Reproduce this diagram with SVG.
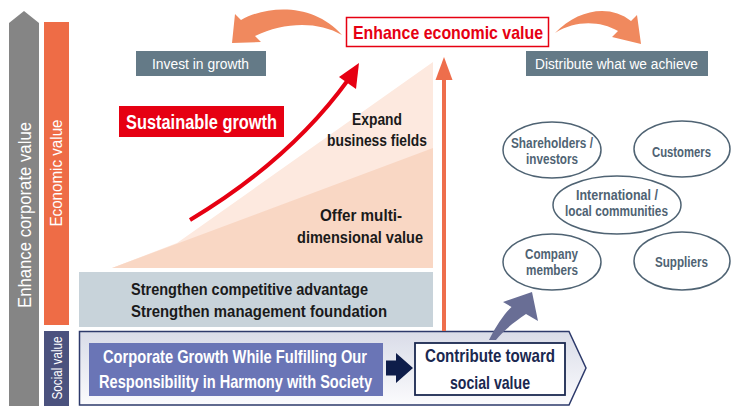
<svg xmlns="http://www.w3.org/2000/svg" width="732" height="406" viewBox="0 0 732 406">
<style>
text{font-family:"Liberation Sans Narrow","Liberation Sans",Arial,sans-serif;font-weight:bold}
.w{fill:#ffffff}
.k{fill:#1a1a1a}
.e{fill:#4f6373;font-size:14.5px}
.tag{fill:#647a87}
.ell{fill:#ffffff;stroke:#4f6373;stroke-width:1.5}
.reg{font-weight:normal}
</style>
<defs>
<linearGradient id="pg" x1="0" y1="0" x2="0" y2="1">
<stop offset="0" stop-color="#d9dce8"/>
<stop offset="1" stop-color="#fbfbfd"/>
</linearGradient>
</defs>

<g id="side-corporate">
<polygon points="9,23 24,11 39,23 39,406 9,406" fill="#858585"/>
<text class="w reg" font-size="19" transform="translate(31,215) rotate(-90)" text-anchor="middle" textLength="186" lengthAdjust="spacingAndGlyphs">Enhance corporate value</text>
</g>
<g id="side-economic">
<rect x="44" y="22" width="25" height="303" fill="#ee6c46"/>
<text class="w reg" font-size="17" transform="translate(62,173) rotate(-90)" text-anchor="middle" textLength="107" lengthAdjust="spacingAndGlyphs">Economic value</text>
</g>
<g id="side-social">
<rect x="44" y="331" width="25" height="75" fill="#4b527e"/>
<text class="w reg" font-size="15" transform="translate(61.5,368) rotate(-90)" text-anchor="middle" textLength="63" lengthAdjust="spacingAndGlyphs">Social value</text>
</g>

<g id="growth-area">
<polygon points="112,268 177,243 433,62 433,268" fill="#fde9df"/>
<polygon points="112,268 433,148 433,268" fill="#f9d7c4"/>
</g>

<g id="invest">
<rect class="tag" x="136" y="51" width="130" height="25"/>
<text class="w reg" font-size="15.5" x="200.5" y="68.5" text-anchor="middle" textLength="97" lengthAdjust="spacingAndGlyphs">Invest in growth</text>
</g>
<g id="distribute">
<rect class="tag" x="526" y="51" width="182" height="25"/>
<text class="w reg" font-size="15.5" x="616.5" y="68.5" text-anchor="middle" textLength="163" lengthAdjust="spacingAndGlyphs">Distribute what we achieve</text>
</g>
<g id="enhance-economic">
<rect x="346.5" y="17.5" width="202" height="29" fill="#ffffff" stroke="#e60012" stroke-width="1.5"/>
<text font-size="19" fill="#e60012" x="448" y="38.5" text-anchor="middle" textLength="190" lengthAdjust="spacingAndGlyphs">Enhance economic value</text>
</g>
<g id="sustainable">
<rect x="119" y="106" width="165" height="31" fill="#e60012"/>
<text class="w" font-size="20" x="201.5" y="129" text-anchor="middle" textLength="151" lengthAdjust="spacingAndGlyphs">Sustainable growth</text>
</g>
<g id="expand">
<text class="k" font-size="16.5" x="377" y="124.5" text-anchor="middle" textLength="50" lengthAdjust="spacingAndGlyphs">Expand</text>
<text class="k" font-size="16.5" x="377" y="145.5" text-anchor="middle" textLength="100" lengthAdjust="spacingAndGlyphs">business fields</text>
</g>
<g id="offer">
<text class="k" font-size="16.5" x="361" y="220.5" text-anchor="middle" textLength="82" lengthAdjust="spacingAndGlyphs">Offer multi-</text>
<text class="k" font-size="16.5" x="360" y="242.5" text-anchor="middle" textLength="126" lengthAdjust="spacingAndGlyphs">dimensional value</text>
</g>
<g id="strengthen">
<rect x="79" y="272" width="354" height="55" fill="#c8d3da"/>
<text class="k" font-size="17" x="131" y="294.5" textLength="237" lengthAdjust="spacingAndGlyphs">Strengthen competitive advantage</text>
<text class="k" font-size="17" x="131" y="316.5" textLength="256" lengthAdjust="spacingAndGlyphs">Strengthen management foundation</text>
</g>

<g id="social-band">
<polygon points="79.5,331.5 569,331.5 586,368 569,405 79.5,405" fill="url(#pg)" stroke="#2d3a6b" stroke-width="1.5"/>
</g>
<g id="corporate-growth">
<rect x="89" y="343" width="294" height="53" fill="#6a75b6"/>
<text class="w" font-size="18.5" x="235" y="362.5" text-anchor="middle" textLength="264" lengthAdjust="spacingAndGlyphs">Corporate Growth While Fulfilling Our</text>
<text class="w" font-size="18.5" x="235.5" y="387.5" text-anchor="middle" textLength="273" lengthAdjust="spacingAndGlyphs">Responsibility in Harmony with Society</text>
</g>
<g id="contribute">
<rect x="415" y="343" width="150" height="52" fill="#ffffff" stroke="#1a2850" stroke-width="1.8"/>
<text font-size="19" fill="#1a2850" x="490" y="361.5" text-anchor="middle" textLength="130" lengthAdjust="spacingAndGlyphs">Contribute toward</text>
<text font-size="19" fill="#1a2850" x="490" y="388.5" text-anchor="middle" textLength="80" lengthAdjust="spacingAndGlyphs">social value</text>
</g>

<g id="shareholders">
<ellipse class="ell" cx="552" cy="150" rx="49" ry="28"/>
<text class="e" x="552" y="147.5" text-anchor="middle" textLength="82" lengthAdjust="spacingAndGlyphs">Shareholders /</text>
<text class="e" x="552" y="163.5" text-anchor="middle" textLength="52" lengthAdjust="spacingAndGlyphs">investors</text>
</g>
<g id="customers">
<ellipse class="ell" cx="682" cy="149" rx="48" ry="28"/>
<text class="e" x="681.5" y="157" text-anchor="middle" textLength="59" lengthAdjust="spacingAndGlyphs">Customers</text>
</g>
<g id="communities">
<ellipse class="ell" cx="617" cy="205" rx="64" ry="29"/>
<text class="e" x="617" y="200" text-anchor="middle" textLength="82" lengthAdjust="spacingAndGlyphs">International /</text>
<text class="e" x="616.5" y="216" text-anchor="middle" textLength="103" lengthAdjust="spacingAndGlyphs">local communities</text>
</g>
<g id="company">
<ellipse class="ell" cx="552" cy="262" rx="49" ry="28"/>
<text class="e" x="551.5" y="259" text-anchor="middle" textLength="53" lengthAdjust="spacingAndGlyphs">Company</text>
<text class="e" x="552" y="275" text-anchor="middle" textLength="52" lengthAdjust="spacingAndGlyphs">members</text>
</g>
<g id="suppliers">
<ellipse class="ell" cx="682" cy="261" rx="48" ry="29"/>
<text class="e" x="681.5" y="267" text-anchor="middle" textLength="53" lengthAdjust="spacingAndGlyphs">Suppliers</text>
</g>

<g id="connectors">
<path d="M342,35 C315,4 270,4 241,20 L235,14 L232,43 L261,42 L255,36 C284,22 318,21 342,35 Z" fill="#f0895e"/>
<path d="M555,33 C578,9 610,4 631,21 L637,15 L641,44 L612,37 L618,31 C600,21 576,20 555,33 Z" fill="#f0895e"/>
<path d="M190,220 Q290,160 348,80" fill="none" stroke="#e60012" stroke-width="4"/>
<polygon points="359,63 339,77 356,89" fill="#e60012"/>
<line x1="444" y1="331" x2="444" y2="78" stroke="#ee6e4c" stroke-width="4"/>
<polygon points="444,57 435.5,80 452.5,80" fill="#ee6e4c"/>
<polygon points="386,360.5 396,360.5 396,353 413,368 396,383 396,375.5 386,375.5" fill="#0e1d4a"/>
<path d="M489,340 C496,326 504,314 511.5,307 L503,302 L532,292 L538,321 L526,314 C514,322 503,331 496,340 Z" fill="#696e95"/>
</g>
</svg>
